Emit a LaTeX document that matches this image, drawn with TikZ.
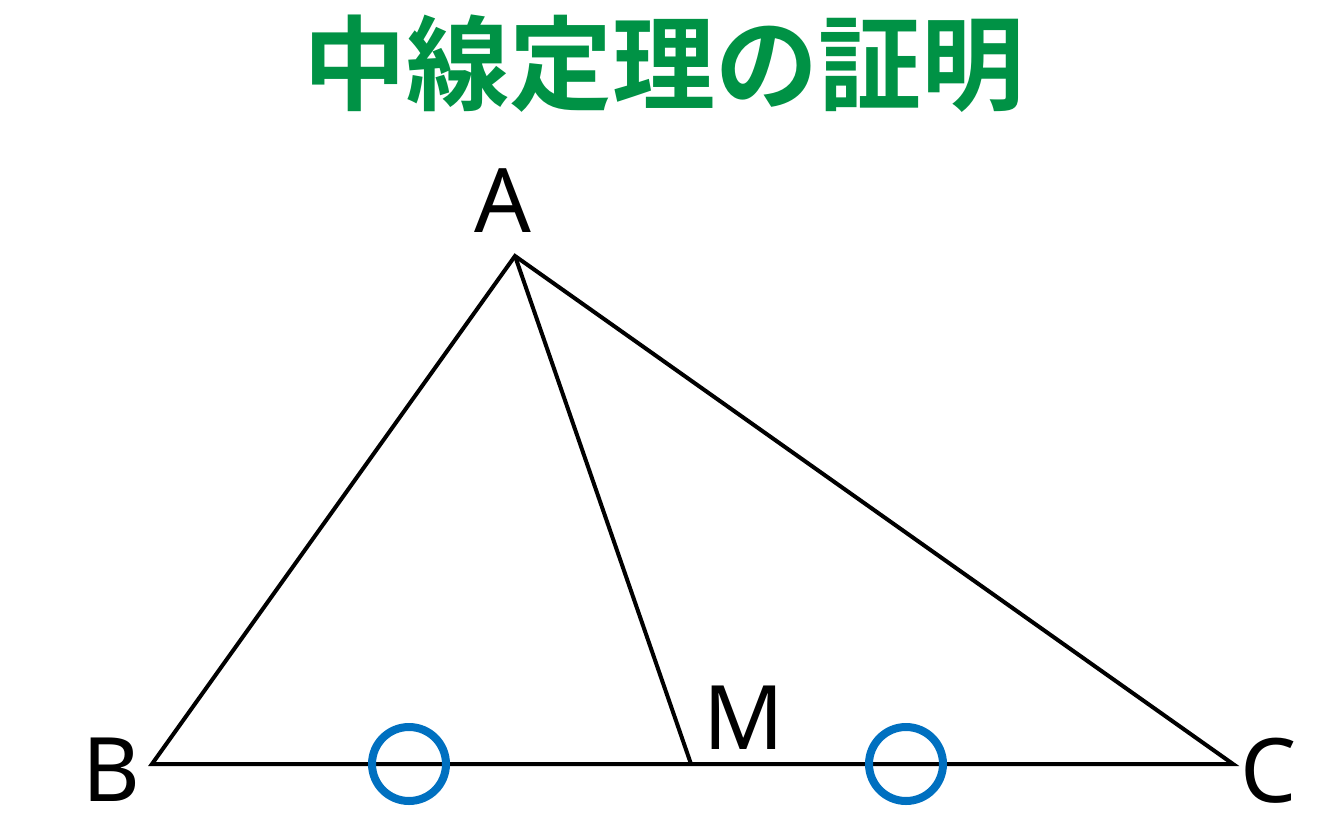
\documentclass[tikz,border=0pt]{standalone}
\usepackage{fontspec}
\setmainfont{Noto Sans}
\newfontfamily\cjkbold{Noto Sans CJK JP}[BoldFont={* Bold}]
\definecolor{titlegreen}{RGB}{0,146,69}
\definecolor{markblue}{RGB}{0,112,192}
\tikzset{
  edge/.style={line width=4pt, line join=miter, black},
  vlabel/.style={inner sep=0pt, anchor=base, font=\fontsize{89}{89}\selectfont},
  tick/.style={circle, draw=markblue, line width=8pt, minimum size=74pt, inner sep=0pt}
}
\begin{document}
\begin{tikzpicture}[x=1pt, y=-1pt]
\useasboundingbox (0,0) rectangle (1333,833);
\node[anchor=base, inner sep=0pt, text=titlegreen, font=\cjkbold\bfseries\fontsize{103}{103}\selectfont] (title) at (664,102) {中線定理の証明};
\coordinate (A) at (515,256);
\coordinate (B) at (152,764);
\coordinate (C) at (1233,764);
\coordinate (M) at (691,764);
\draw[edge] (A) -- (B) -- (C) -- cycle;
\draw[edge] (A) -- (M);
\node[tick] (t1) at (409,764) {};
\node[tick] (t2) at (906,764) {};
\node[vlabel] (lA) at (503,232) {A};
\node[vlabel] (lB) at (111,801) {B};
\node[vlabel] (lC) at (1269,802) {C};
\node[vlabel] (lM) at (744,749) {M};
\end{tikzpicture}
\end{document}
